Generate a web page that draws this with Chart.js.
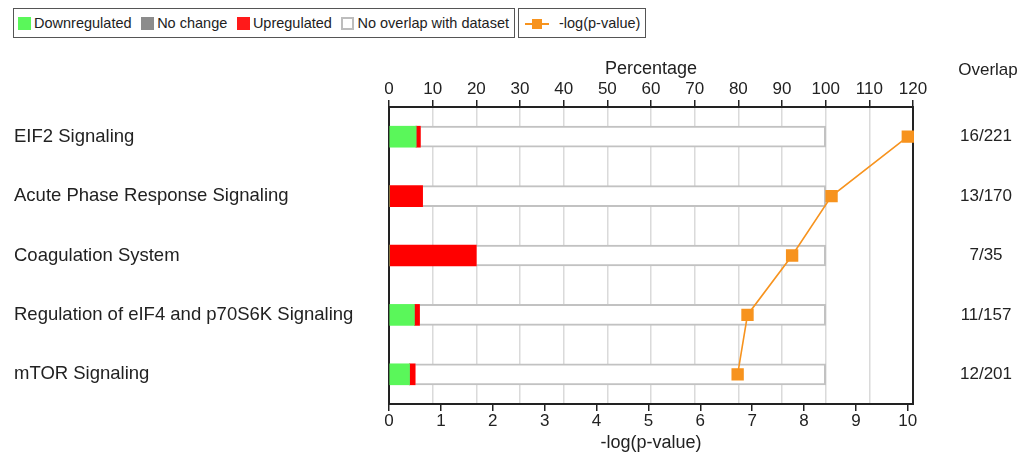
<!DOCTYPE html>
<html>
<head>
<meta charset="utf-8">
<script src="https://cdn.jsdelivr.net/npm/chart.js@4"></script>
<style>
  body { margin: 0; background: #fff; font-family: "Liberation Sans", Arial, sans-serif; color: #222; }
  #wrap { position: relative; width: 1034px; height: 454px; }
  #wrap canvas { position: absolute; left: 0; top: 0; }
  .legend { position: absolute; top: 8px; height: 30px; box-sizing: border-box; border: 1.5px solid #555;
            display: flex; align-items: center; font-size: 14.5px; background: #fff; white-space: nowrap; }
  .leg1 { left: 13px; width: 502px; justify-content: space-between; padding: 0 5px 0 4px; }
  .leg2 { left: 518px; width: 128px; padding: 0 4px; }
  .legend span.item { display: flex; align-items: center; }
  .sw { display: inline-block; width: 13px; height: 13px; margin-right: 3px; box-sizing: border-box; }
  .lineSw { position: relative; display: inline-block; width: 24px; height: 13px; margin: 0 10px 0 2px; }
  .lineSw:before { content: ""; position: absolute; left: 0; right: 0; top: 6px; height: 2px; background: #f7931e; }
  .lineSw:after { content: ""; position: absolute; left: 7px; top: 2px; width: 10px; height: 10px; background: #f7931e; }
  #overlapHead { position: absolute; left: 948px; width: 80px; top: 60px; text-align: center; font-size: 17px; }
</style>
</head>
<body>
<div id="wrap">
  <canvas id="grafico" width="1034" height="454"></canvas>
  <div class="legend leg1">
    <span class="item"><span class="sw" style="background:#5af75a"></span>Downregulated</span>
    <span class="item"><span class="sw" style="background:#8c8c8c"></span>No change</span>
    <span class="item"><span class="sw" style="background:#ff1a1a"></span>Upregulated</span>
    <span class="item"><span class="sw" style="background:#fff;border:2px solid #bdbdbd"></span>No overlap with dataset</span>
  </div>
  <div class="legend leg2">
    <span class="lineSw"></span>-log(p-value)
  </div>
  <div id="overlapHead">Overlap</div>
</div>
<script>
//Dados do grafico
var categorias = ["EIF2 Signaling", "Acute Phase Response Signaling", "Coagulation System",
  "Regulation of eIF4 and p70S6K Signaling", "mTOR Signaling"];
var overlap = ["16/221", "13/170", "7/35", "11/157", "12/201"];
var downPct = [6.2, 0, 0, 5.8, 4.7];
var semMudancaPct = [0, 0, 0, 0, 0];
var upPct = [1.0, 7.7, 20.0, 1.2, 1.3];
var negLogP = [10.0, 8.53, 7.77, 6.91, 6.72];
var pctTicks = [0, 10, 20, 30, 40, 50, 60, 70, 80, 90, 100, 110, 120];
var pTicks = [0, 1, 2, 3, 4, 5, 6, 7, 8, 9, 10];

//resto da barra ate 100%
var semOverlapPct = categorias.map(function(c, i) {
  return 100 - downPct[i] - semMudancaPct[i] - upPct[i];
});

Chart.defaults.font.family = '"Liberation Sans", Arial, sans-serif';
Chart.defaults.color = '#222';

var barra = { xAxisID: 'xp', yAxisID: 'y', stack: 'a', barThickness: 21, borderWidth: 0, order: 1 };

var config = {
  type: 'bar',
  data: {
    labels: categorias,
    datasets: [
      Object.assign({ label: 'Downregulated', data: downPct, backgroundColor: '#5af75a' }, barra),
      Object.assign({ label: 'No change', data: semMudancaPct, backgroundColor: '#8c8c8c' }, barra),
      Object.assign({ label: 'Upregulated', data: upPct, backgroundColor: '#ff0000' }, barra),
      Object.assign({}, barra, {
        label: 'No overlap with dataset', data: semOverlapPct, backgroundColor: '#ffffff',
        borderColor: '#c2c2c2', borderWidth: { top: 2, right: 2, bottom: 2, left: 0 }
      }),
      {
        type: 'line', label: '-log(p-value)', data: negLogP, indexAxis: 'y',
        xAxisID: 'x', yAxisID: 'y', stack: 'linha', order: 0,
        borderColor: '#f7931e', backgroundColor: '#f7931e', borderWidth: 1.6,
        pointStyle: 'rect', pointRadius: 7.6, pointHoverRadius: 7.6, clip: false
      }
    ]
  },
  options: {
    indexAxis: 'y',
    responsive: false,
    animation: false,
    layout: { padding: { left: 14, top: 50, right: 0, bottom: 0 } },
    plugins: { legend: { display: false }, tooltip: { enabled: false } },
    scales: {
      xp: {
        type: 'linear', position: 'top', min: 0, max: 120, stacked: true,
        afterBuildTicks: function(s) { s.ticks = pctTicks.map(function(v) { return { value: v }; }); },
        afterFit: function(s) { s.height = 57; },
        ticks: { font: { size: 17 }, padding: 0, color: '#222' },
        grid: { color: '#dadada', lineWidth: 1.5, tickColor: '#222', tickLength: 7 },
        border: { color: '#222', width: 2 },
        title: { display: true, text: 'Percentage', font: { size: 18 }, padding: { top: 8, bottom: 0 } }
      },
      x: {
        type: 'linear', position: 'bottom', min: 0, max: 10.1,
        afterBuildTicks: function(s) { s.ticks = pTicks.map(function(v) { return { value: v }; }); },
        afterFit: function(s) { s.height = 50; },
        ticks: { font: { size: 17 }, padding: 0, color: '#222', maxRotation: 0 },
        grid: { drawOnChartArea: false, tickColor: '#222', tickLength: 7, lineWidth: 1.5 },
        border: { color: '#222', width: 2 },
        title: { display: true, text: '-log(p-value)', font: { size: 18 }, padding: { top: 0, bottom: 0 } }
      },
      y: {
        type: 'category', position: 'left', stacked: true, offset: true,
        afterFit: function(s) { s.width = 375; s.paddingTop = 0; s.paddingBottom = 0; },
        ticks: { font: { size: 18.5 }, color: '#222', crossAlign: 'far', padding: 0 },
        grid: { display: false, drawTicks: false },
        border: { color: '#222', width: 2 }
      },
      y2: {
        type: 'category', position: 'right', labels: overlap, offset: true,
        //padding grande so pra centralizar a coluna Overlap
        afterFit: function(s) { s.width = 121; s.paddingTop = 0; s.paddingBottom = 0; },
        ticks: { font: { size: 17 }, color: '#222', crossAlign: 'center', padding: 47 },
        grid: { display: false, drawTicks: false },
        border: { color: '#222', width: 2 }
      }
    }
  }
};

window.onload = function() {
  var ctx = document.getElementById("grafico").getContext("2d");
  window.meuGrafico = new Chart(ctx, config);
};
</script>
</body>
</html>
